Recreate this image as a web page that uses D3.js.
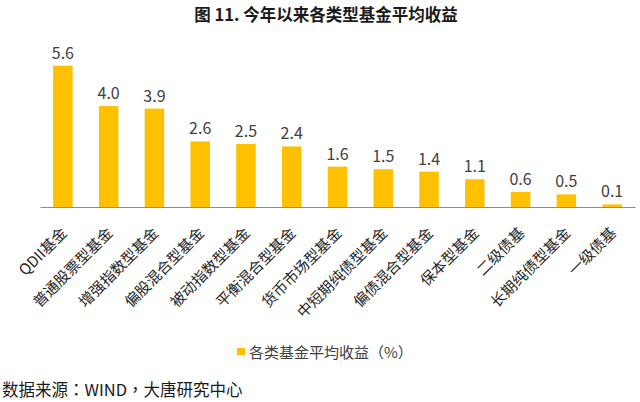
<!DOCTYPE html>
<html>
<head>
<meta charset="utf-8">
<script src="https://cdn.jsdelivr.net/npm/d3@7"></script>
<style>
  html, body { margin: 0; padding: 0; background: #fff; }
  svg { display: block; }
  text { font-family: "Microsoft YaHei", "Noto Sans CJK SC", "Noto Sans", sans-serif; }
</style>
</head>
<body>
<svg id="chart" width="640" height="402"></svg>
<script>
const categories = ["QDII基金", "普通股票型基金", "增强指数型基金", "偏股混合型基金", "被动指数型基金", "平衡混合型基金", "货币市场型基金", "中短期纯债型基金", "偏债混合型基金", "保本型基金", "二级债基", "长期纯债型基金", "一级债基"];
const values = [5.6, 4.0, 3.9, 2.6, 2.5, 2.4, 1.6, 1.5, 1.4, 1.1, 0.6, 0.5, 0.1];
const titleText = "图 11.  今年以来各类型基金平均收益";
const legendLabel = "各类基金平均收益（%）";
const sourceText = "数据来源：WIND，大唐研究中心";

const svg = d3.select("#chart");
const barColor = "#FFC000";
const textColor = "#404040";

const baseY = 207;
const x = d3.scaleBand().domain(categories).range([40, 635]).paddingInner(0.575).paddingOuter(0.2875);
const y = d3.scaleLinear().domain([0, 6]).range([baseY, baseY - 6 * 25.23]);

// title
svg.append("text")
  .attr("x", 326).attr("y", 14)
  .attr("text-anchor", "middle").attr("dominant-baseline", "central")
  .attr("font-size", 16.5).attr("font-weight", "bold").attr("fill", "#1a1a1a")
  .text(titleText);

// bars
svg.append("g").selectAll("rect").data(values).join("rect")
  .attr("x", (d, i) => x(categories[i]))
  .attr("width", x.bandwidth())
  .attr("y", d => y(d))
  .attr("height", d => y(0) - y(d))
  .attr("fill", barColor);

// value labels
svg.append("g").selectAll("text").data(values).join("text")
  .attr("x", (d, i) => x(categories[i]) + x.bandwidth() / 2)
  .attr("y", d => y(d) - 7)
  .attr("text-anchor", "middle")
  .attr("font-size", 16).attr("fill", textColor)
  .text(d => d.toFixed(1));

// x axis
const xAxis = svg.append("g")
  .attr("transform", `translate(0,${baseY})`)
  .call(d3.axisBottom(x).tickSize(0).tickSizeOuter(0));
xAxis.select(".domain").attr("stroke", "#8c8c8c").attr("stroke-width", 1);
xAxis.selectAll(".tick text")
  .attr("x", 0).attr("y", 0).attr("dy", null)
  .attr("text-anchor", "end")
  .attr("transform", "translate(5,27) rotate(-45)")
  .attr("font-size", 15).attr("fill", "#262626")
  .style("font-family", "\"Microsoft YaHei\", \"Noto Sans CJK SC\", sans-serif");

// legend
const legend = svg.append("g");
legend.append("rect").attr("x", 237).attr("y", 348).attr("width", 8).attr("height", 7).attr("fill", barColor);
legend.append("text").attr("x", 249).attr("y", 351)
  .attr("dominant-baseline", "central")
  .attr("font-size", 15).attr("fill", textColor)
  .style("font-family", "\"Noto Sans CJK TC\", \"Noto Sans CJK SC\", sans-serif")
  .text(legendLabel);

// source
svg.append("text").attr("x", 2).attr("y", 389)
  .attr("dominant-baseline", "central")
  .attr("font-size", 16.5).attr("fill", "#1a1a1a")
  .style("font-family", "\"Noto Sans CJK TC\", \"Noto Sans CJK SC\", sans-serif")
  .text(sourceText);
</script>
</body>
</html>
